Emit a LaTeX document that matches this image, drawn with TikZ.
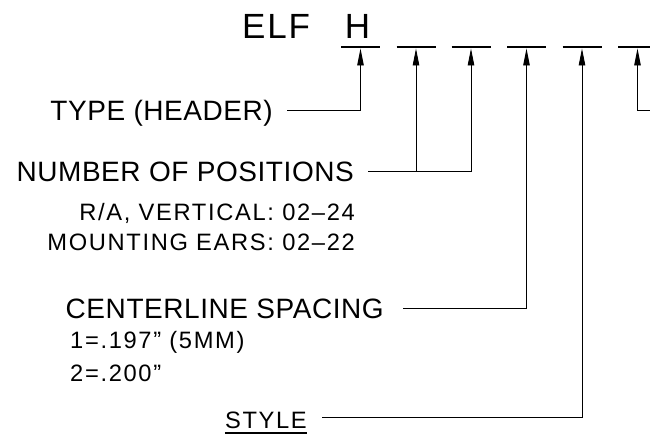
\documentclass[tikz,border=0pt]{standalone}
\usepackage{fontspec}
\setmainfont{Liberation Sans}
\usetikzlibrary{arrows.meta,positioning,calc}
\newcommand{\partnofont}{\fontsize{35}{38}\selectfont\addfontfeature{LetterSpace=5}}
\newcommand{\calloutfont}{\fontsize{28}{30}\selectfont\addfontfeature{LetterSpace=2}}
\newcommand{\detailfont}{\fontsize{23.7}{26}\selectfont\addfontfeature{LetterSpace=7}}
\tikzset{
  callout/.style={inner sep=0pt, text height=20pt, text depth=0pt, font=\calloutfont},
  detail/.style={inner sep=0pt, font=\detailfont},
  slot/.style={line width=2pt},
  pointer/.style={-{Triangle[length=17pt,width=6.5pt]}, line width=0.9pt, shorten >=1pt}
}
\begin{document}
\begin{tikzpicture}[x=1pt, y=-1pt]
\useasboundingbox (0,0) rectangle (650,436);

% --- Part number and blanks ---
\node[inner sep=0pt, font=\partnofont, anchor=base west] (partno) at (242,38) {ELF\hspace{35pt}H};
\foreach \x [count=\i] in {360.5,416,471,526.5,582,637.5}
  \coordinate (u\i) at (\x,47.5);
\foreach \i in {1,...,6}
  \draw[slot] ([xshift=-19.5pt]u\i) -- ([xshift=19.5pt]u\i);

% --- Callouts ---
\node[callout, anchor=east] (type) at (273,110) {TYPE (HEADER)};
\node[callout, anchor=east] (positions) at (354,171) {NUMBER OF POSITIONS};
\node[detail, anchor=base east] (vertical) at (355,220) {R/A, VERTICAL: 02--24};
\node[detail, anchor=base east] (ears) at (355,250) {MOUNTING EARS: 02--22};
\node[callout, anchor=east] (spacing) at (384,308) {CENTERLINE SPACING};
\node[detail, anchor=base west] (pitch1) at (70,348) {1=.197'' (5MM)};
\node[detail, anchor=base west] (pitch2) at (70,381) {2=.200''};
\node[detail, text height=22pt, text depth=0pt, anchor=east] (style) at (307,417) {STYLE};
\draw[line width=1.6pt] ([yshift=-5pt]style.base west) -- ([yshift=-5pt]style.base east);
\coordinate (offpage) at (660,110);

% --- Pointers ---
\draw[pointer] ([xshift=14pt]type.east) -| (u1);
\draw[pointer] ([xshift=14pt]positions.east) -| (u2);
\draw[pointer] ([xshift=14pt]positions.east) -| (u3);
\draw[pointer] ([xshift=19pt]spacing.east) -| (u4);
\draw[pointer] ([xshift=15pt]style.east) -| (u5);
\draw[pointer] (offpage) -| (u6);

\end{tikzpicture}
\end{document}
